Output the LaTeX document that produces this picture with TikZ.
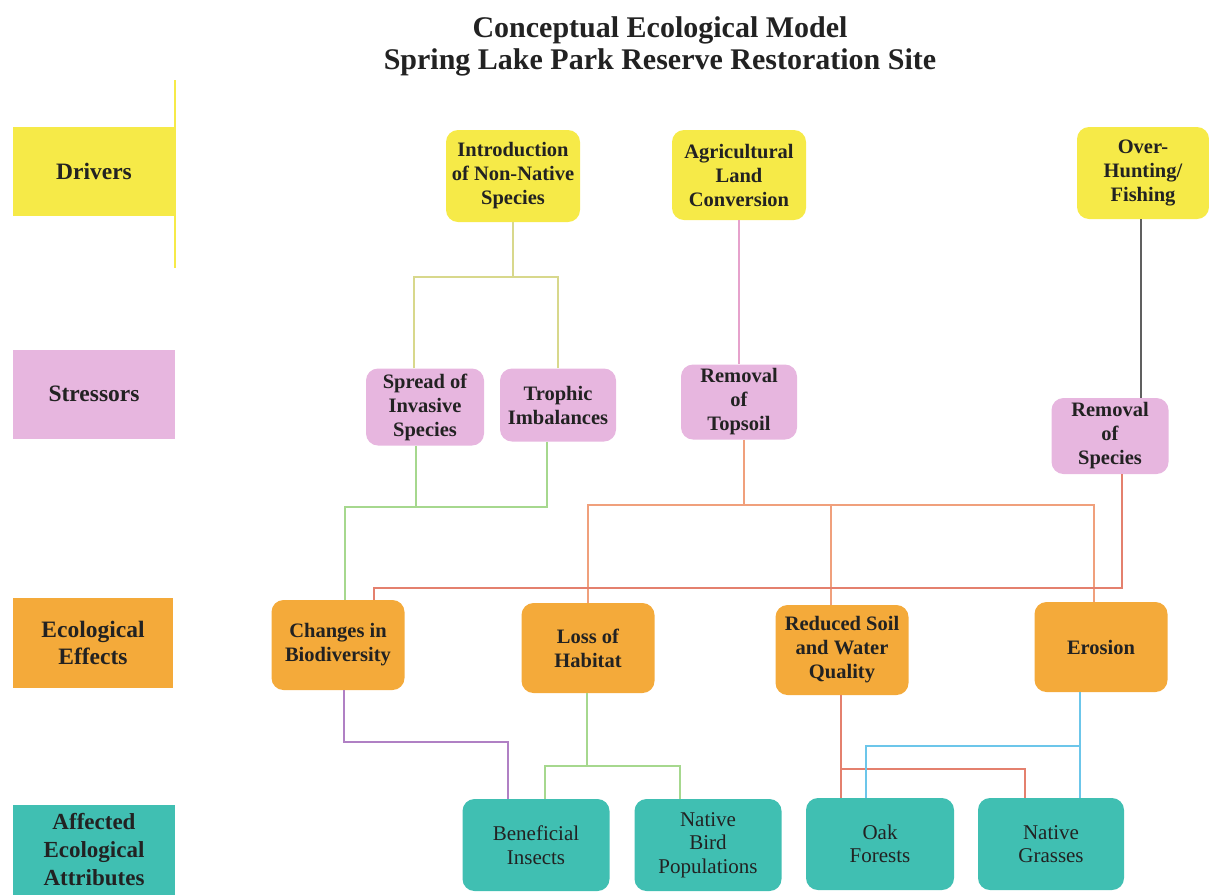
\documentclass[tikz,border=0pt]{standalone}
\usepackage{fontspec}
\setmainfont{Liberation Serif}
\definecolor{cYel}{HTML}{F6EA48}
\definecolor{cPink}{HTML}{E7B6DF}
\definecolor{cOra}{HTML}{F4AA3A}
\definecolor{cTeal}{HTML}{40BFB2}
\definecolor{cTxt}{HTML}{222222}
\definecolor{lYel}{HTML}{D8D88C}
\definecolor{lGrn}{HTML}{A6D88E}
\definecolor{lPink}{HTML}{E6A2CC}
\definecolor{lOra}{HTML}{F0A07C}
\definecolor{lRed}{HTML}{E4806E}
\definecolor{lPur}{HTML}{B080C4}
\definecolor{lBlu}{HTML}{6CC6EA}
\definecolor{lGry}{HTML}{606060}
\tikzset{
  box/.style={rounded corners=12pt, align=center, text=cTxt, inner sep=1pt,
    font=\fontsize{20.5}{24}\selectfont\bfseries},
  ybox/.style={box, fill=cYel, minimum width=134pt, minimum height=91pt},
  pbox/.style={box, fill=cPink, minimum width=117pt, minimum height=76pt},
  obox/.style={box, fill=cOra, minimum width=133pt, minimum height=90pt},
  tbox/.style={box, fill=cTeal, minimum width=147pt, minimum height=92pt,
    font=\fontsize{21}{23.5}\selectfont},
  lab/.style={align=center, text=cTxt, minimum width=162pt, minimum height=89pt,
    font=\fontsize{23.5}{27.5}\selectfont\bfseries},
  ln/.style={line width=1.3pt},
}
\begin{document}
\begin{tikzpicture}[x=1pt,y=-1pt]
\useasboundingbox (0,0) rectangle (1209,895);
% title
\node[text=cTxt, align=center, font=\fontsize{30}{32}\selectfont\bfseries] (title) at (660,46)
  {Conceptual Ecological Model\\Spring Lake Park Reserve Restoration Site};
% left labels
\node[lab, fill=cYel] (drivers) at (94,171) {Drivers};
\node[lab, fill=cPink] (stressors) at (94,394) {Stressors};
\node[lab, fill=cOra, minimum width=160pt, minimum height=90pt] (effects) at (93,643) {Ecological\\Effects};
\node[lab, fill=cTeal, minimum height=90pt, font=\fontsize{23}{28}\selectfont\bfseries] (affected) at (94,850) {Affected\\Ecological\\Attributes};
\coordinate (dl1) at (175,80);
\coordinate (dl2) at (175,268);
\draw[line width=1.2pt, cYel] (dl1) -- (dl2);
% drivers
\node[ybox, minimum height=92pt] (intro) at (513,176) {Introduction\\of Non-Native\\Species};
\node[ybox, minimum height=90pt] (agri) at (739,175) {Agricultural\\Land\\Conversion};
\node[ybox, minimum width=132pt, minimum height=92pt] (hunt) at (1143,173) {Over-\\Hunting/\\Fishing};
% stressors
\node[pbox, minimum width=118pt, minimum height=77pt] (spread) at (425,407) {Spread of\\Invasive\\Species};
\node[pbox, minimum width=116pt, minimum height=73pt] (trophic) at (558,405) {Trophic\\Imbalances};
\node[pbox, minimum width=116pt, minimum height=75pt] (topsoil) at (739,402) {Removal\\of\\Topsoil};
\node[pbox] (remsp) at (1110,436) {Removal\\of\\Species};
% effects
\node[obox] (changes) at (338,645) {Changes in\\Biodiversity};
\node[obox] (loss) at (588,648) {Loss of\\Habitat};
\node[obox] (reduced) at (842,650) {Reduced Soil\\and Water\\Quality};
\node[obox] (erosion) at (1101,647) {Erosion};
% attributes
\node[tbox] (benef) at (536,845) {Beneficial\\Insects};
\node[tbox] (bird) at (708,845) {Native\\Bird\\Populations};
\node[tbox, minimum width=148pt] (oak) at (880,844) {Oak\\Forests};
\node[tbox, minimum width=146pt] (grass) at (1051,844) {Native\\Grasses};
% connectors: intro -> spread, trophic
\coordinate (iL) at (414,277);
\coordinate (iR) at (558,277);
\draw[ln, lYel] (intro.south) -- (intro.south |- iL);
\draw[ln, lYel] (iL |- spread.north) -- (iL) -- (iR) -- (iR |- trophic.north);
% spread, trophic -> changes
\coordinate (gL) at (345,507);
\coordinate (gS) at (416,507);
\coordinate (gT) at (547,507);
\draw[ln, lGrn] (gS |- spread.south) -- (gS);
\draw[ln, lGrn] (gT |- trophic.south) -- (gT) -- (gL) -- (gL |- changes.north);
% agri -> topsoil
\draw[ln, lPink] (agri.south) -- (topsoil.north);
% topsoil -> loss, reduced, erosion
\coordinate (oT) at (744,505);
\coordinate (oL) at (588,505);
\coordinate (oM) at (831,505);
\coordinate (oR) at (1094,505);
\draw[ln, lOra] (oT |- topsoil.south) -- (oT);
\draw[ln, lOra] (oL |- loss.north) -- (oL) -- (oR) -- (oR |- erosion.north);
\draw[ln, lOra] (oM) -- (oM |- reduced.north);
% hunting -> removal of species
\coordinate (hX) at (1141,300);
\draw[ln, lGry] (hX |- hunt.south) -- (hX |- remsp.north);
% removal of species -> changes
\coordinate (rR) at (1122,588);
\coordinate (rL) at (374,588);
\draw[ln, lRed] (rR |- remsp.south) -- (rR) -- (rL) -- (rL |- changes.north);
% changes -> beneficial
\coordinate (pA) at (344,742);
\coordinate (pB) at (508,742);
\draw[ln, lPur] (pA |- changes.south) -- (pA) -- (pB) -- (pB |- benef.north);
% loss -> beneficial, bird
\coordinate (lA) at (587,766);
\coordinate (lL) at (545,766);
\coordinate (lR) at (680,766);
\draw[ln, lGrn] (lA |- loss.south) -- (lA);
\draw[ln, lGrn] (lL |- benef.north) -- (lL) -- (lR) -- (lR |- bird.north);
% reduced -> oak, grasses
\coordinate (sA) at (841,769);
\coordinate (sB) at (1025,769);
\draw[ln, lRed] (sA |- reduced.south) -- (sA |- oak.north);
\draw[ln, lRed] (sA) -- (sB) -- (sB |- grass.north);
% erosion -> grasses, oak
\coordinate (bA) at (1080,746);
\coordinate (bB) at (866,746);
\draw[ln, lBlu] (bA |- erosion.south) -- (bA |- grass.north);
\draw[ln, lBlu] (bA) -- (bB) -- (bB |- oak.north);
\end{tikzpicture}
\end{document}
